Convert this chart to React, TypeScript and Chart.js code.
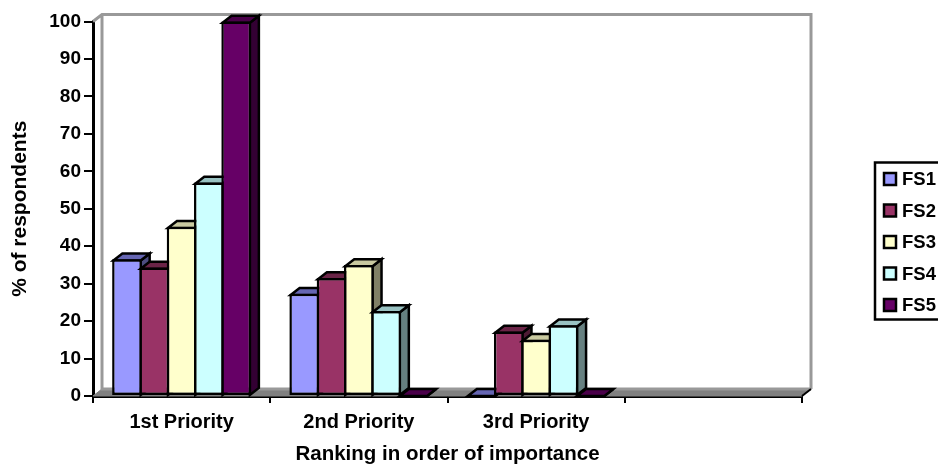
import React, { useEffect, useRef } from "react";
import { Chart, registerables } from "chart.js";

Chart.register(...registerables);

const categories = ["1st Priority", "2nd Priority", "3rd Priority", ""];
const seriesNames = ["FS1", "FS2", "FS3", "FS4", "FS5"];
const fs1 = [36.5, 27.3, 0, null];
const fs2 = [34.3, 31.5, 17.2, null];
const fs3 = [45.2, 35, 15, null];
const fs4 = [57, 22.7, 18.9, null];
const fs5 = [100, 0, 0, null];
const seriesValues = [fs1, fs2, fs3, fs4, fs5];
const faceColors = ["#9999FF", "#993366", "#FFFFCC", "#CCFFFF", "#660066"];
const topColors = ["#6666B3", "#6B2447", "#C9C9A0", "#99C2C2", "#4A004A"];
const sideColors = ["#4D4D80", "#4D1A33", "#808066", "#668080", "#330033"];

const FONT = "'Liberation Sans', Arial, sans-serif";
const DEPTH_X = 9;
const DEPTH_Y = 7;
const EDGE = 2.5;

function polygon(ctx: CanvasRenderingContext2D, pts: number[][], fill: string, stroke: string, width: number) {
  ctx.beginPath();
  pts.forEach(([x, y], i) => (i ? ctx.lineTo(x, y) : ctx.moveTo(x, y)));
  ctx.closePath();
  ctx.fillStyle = fill;
  ctx.fill();
  ctx.strokeStyle = stroke;
  ctx.lineWidth = width;
  ctx.lineJoin = "miter";
  ctx.stroke();
}

// Back wall and floor of the 3D plot box.
function drawWalls(chart: any) {
  const { ctx, chartArea: a } = chart;
  const bx = a.left + DEPTH_X;
  const tx = a.right + DEPTH_X;
  const fy = a.bottom - DEPTH_Y;
  const ty = a.top - DEPTH_Y;
  ctx.save();
  polygon(ctx, [[a.left, a.bottom], [bx, fy], [tx, fy], [a.right, a.bottom]], "#808080", "#808080", 1);
  ctx.strokeStyle = "#999999";
  ctx.lineWidth = 3;
  ctx.beginPath();
  ctx.moveTo(a.left, a.top);
  ctx.lineTo(bx, ty);
  ctx.lineTo(tx, ty);
  ctx.lineTo(tx, fy);
  ctx.moveTo(bx, ty);
  ctx.lineTo(bx, fy);
  ctx.lineTo(tx, fy);
  ctx.stroke();
  ctx.strokeStyle = "#000000";
  ctx.lineWidth = 2;
  ctx.beginPath();
  ctx.moveTo(a.right, a.bottom);
  ctx.lineTo(tx, fy);
  ctx.stroke();
  ctx.restore();
}

// Top and side faces of one series.
function drawExtrusion(ctx: CanvasRenderingContext2D, meta: any, i: number) {
  meta.data.forEach((bar: any, k: number) => {
    const value = seriesValues[i][k];
    if (value === null) return;
    const left = bar.x - bar.width / 2 + EDGE / 2;
    const right = bar.x + bar.width / 2 - EDGE / 2;
    const top = bar.y + (value ? EDGE / 2 : 0);
    const base = bar.base;
    polygon(ctx, [[right, top], [right + DEPTH_X, top - DEPTH_Y], [right + DEPTH_X, base - DEPTH_Y], [right, base]], sideColors[i], "#000000", EDGE);
    polygon(ctx, [[left, top], [left + DEPTH_X, top - DEPTH_Y], [right + DEPTH_X, top - DEPTH_Y], [right, top]], topColors[i], "#000000", EDGE);
  });
}

// Paints the series left to right, so each bar's front covers its left neighbour's side.
const depthOrderPlugin = {
  id: "depthOrder",
  beforeDatasetsDraw(chart: any) {
    drawWalls(chart);
    const { ctx } = chart;
    seriesNames.forEach((_, i) => {
      const meta = chart.getDatasetMeta(i);
      ctx.save();
      drawExtrusion(ctx, meta, i);
      ctx.restore();
      meta.controller.draw();
    });
    return false;
  },
};

// Boxed series key, running off the right edge of the canvas.
const keyPlugin = {
  id: "seriesKey",
  afterDraw(chart: any) {
    const { ctx } = chart;
    const rows = [179, 210.5, 242, 273.5, 305];
    ctx.save();
    ctx.strokeStyle = "#000000";
    ctx.lineWidth = EDGE;
    ctx.strokeRect(875, 162.5, 80, 157);
    ctx.font = `bold 18.5px ${FONT}`;
    ctx.textBaseline = "middle";
    ctx.textAlign = "left";
    chart.data.datasets.forEach((ds: any, i: number) => {
      const y = rows[i];
      ctx.fillStyle = ds.backgroundColor;
      ctx.fillRect(884, y - 6, 12, 12);
      ctx.strokeRect(884, y - 6, 12, 12);
      ctx.fillStyle = "#000000";
      ctx.fillText(ds.label, 902, y + 1);
    });
    ctx.restore();
  },
};

export default function App() {
  const canvasRef = useRef<HTMLCanvasElement>(null);

  useEffect(() => {
    const chart = new Chart(canvasRef.current!, {
      type: "bar",
      data: {
        labels: categories,
        datasets: seriesNames.map((label, i) => ({
          label,
          data: seriesValues[i],
          backgroundColor: faceColors[i],
          borderColor: "#000000",
          borderWidth: EDGE,
          borderSkipped: false,
          clip: false,
          categoryPercentage: 0.77,
          barPercentage: 1.092,
        })),
      },
      options: {
        responsive: false,
        animation: false,
        layout: { padding: { top: 21.5, right: 136, left: 0, bottom: 0 } },
        plugins: { legend: { display: false }, title: { display: false }, tooltip: { enabled: false } },
        scales: {
          x: {
            z: 1,
            grid: { drawOnChartArea: false, drawTicks: true, tickLength: 7, color: "#000000", lineWidth: 2 },
            border: { color: "#000000", width: 3 },
            ticks: { color: "#000000", font: { family: FONT, size: 20, weight: "bold" }, padding: 7, maxRotation: 0 },
            title: { display: true, text: "Ranking in order of importance", color: "#000000", font: { family: FONT, size: 20.5, weight: "bold" }, padding: { top: 8, bottom: -2 } },
            afterFit(scale: any) {
              scale.height = 69;
            },
          },
          y: {
            z: 1,
            min: 0,
            max: 100,
            grid: { drawOnChartArea: false, drawTicks: true, tickLength: 9, color: "#000000", lineWidth: 2 },
            border: { color: "#000000", width: 3 },
            ticks: { stepSize: 10, color: "#000000", font: { family: FONT, size: 19, weight: "bold" }, padding: 3 },
            title: { display: true, text: "% of respondents", color: "#000000", font: { family: FONT, size: 21, weight: "bold" }, padding: { top: 8, bottom: 0 } },
            afterFit(scale: any) {
              scale.width = 93;
            },
          },
        },
      },
      plugins: [depthOrderPlugin, keyPlugin],
    } as any);
    return () => chart.destroy();
  }, []);

  return (
    <div style={{ position: "absolute", left: 0, top: 0, width: 938, height: 465, background: "#ffffff", overflow: "hidden" }}>
      <canvas ref={canvasRef} width={938} height={465} style={{ display: "block" }} />
    </div>
  );
}
